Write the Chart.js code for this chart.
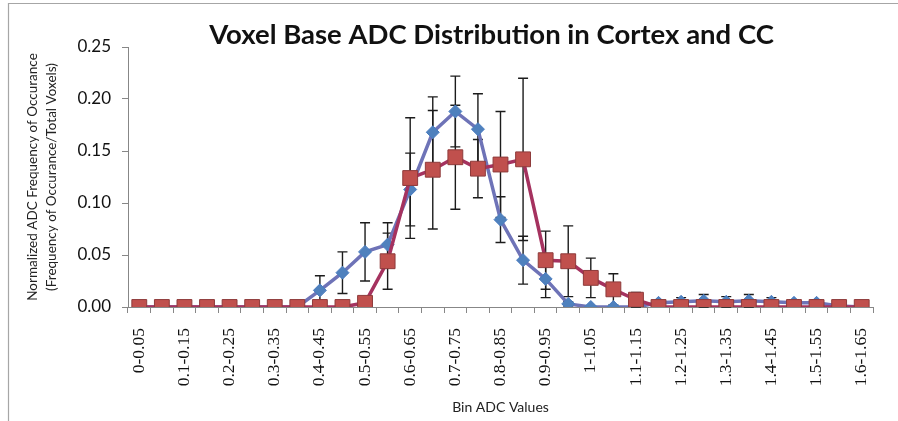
<!DOCTYPE html>
<html>
<head>
<meta charset="utf-8">
<script src="https://cdn.jsdelivr.net/npm/chart.js@4"></script>
<style>
  html, body { margin: 0; padding: 0; background: #fff; }
  #wrap { width: 898px; height: 421px; }
</style>
</head>
<body>
<div id="wrap"><canvas id="c" width="898" height="421"></canvas></div>
<script>
const chartTitle = "Voxel Base ADC Distribution in Cortex and CC";
const xAxisTitle = "Bin ADC Values";
const yAxisTitle = ["Normalized ADC Frequency of Occurance", "(Frequency of Occurance/Total Voxels)"];

const bins = ["0-0.05","0.05-0.1","0.1-0.15","0.15-0.2","0.2-0.25","0.25-0.3","0.3-0.35","0.35-0.4",
  "0.4-0.45","0.45-0.5","0.5-0.55","0.55-0.6","0.6-0.65","0.65-0.7","0.7-0.75","0.75-0.8",
  "0.8-0.85","0.85-0.9","0.9-0.95","0.95-1","1-1.05","1.05-1.1","1.1-1.15","1.15-1.2",
  "1.2-1.25","1.25-1.3","1.3-1.35","1.35-1.4","1.4-1.45","1.45-1.5","1.5-1.55","1.55-1.6","1.6-1.65"];

const cortex = [0,0,0,0,0,0,0,0,
  0.016,0.033,0.053,0.060,0.113,0.168,0.188,0.171,
  0.084,0.045,0.027,0.003,0.000,0.000,0.000,0.004,
  0.005,0.006,0.005,0.006,0.005,0.004,0.004,0.001,0];
const cortexErr = [0,0,0,0,0,0,0,0,
  0.014,0.020,0.028,0.021,0.035,0.034,0.034,0.034,
  0.022,0.023,0.018,0.002,0,0,0,0.002,
  0.004,0.006,0.005,0.006,0.004,0.003,0.003,0,0];

const cc = [0,0,0,0,0,0,0,0,
  0,0,0.004,0.044,0.124,0.132,0.144,0.133,
  0.137,0.142,0.045,0.044,0.028,0.017,0.007,0,
  0,0,0,0,0,0,0,0,0];
const ccErr = [0,0,0,0,0,0,0,0,
  0,0,0.002,0.027,0.058,0.057,0.050,0.028,
  0.051,0.078,0.028,0.034,0.019,0.015,0.007,0,
  0,0,0,0,0,0,0,0,0];

const yTicks = [0, 0.05, 0.10, 0.15, 0.20, 0.25];

const errorBars = {
  id: 'errorBars',
  beforeDatasetsDraw(chart) {
    const ctx = chart.ctx;
    const y = chart.scales.y;
    ctx.save();
    ctx.strokeStyle = '#1c1c1c';
    ctx.lineWidth = 1.4;
    chart.data.datasets.forEach((ds, di) => {
      const errs = ds.errors;
      if (!errs) return;
      const meta = chart.getDatasetMeta(di);
      meta.data.forEach((pt, i) => {
        const e = errs[i];
        if (!e) return;
        const v = ds.data[i];
        const yt = y.getPixelForValue(v + e);
        const yb = y.getPixelForValue(Math.max(v - e, 0));
        const x = pt.x;
        ctx.beginPath();
        ctx.moveTo(x, yt); ctx.lineTo(x, yb);
        ctx.moveTo(x - 5, yt); ctx.lineTo(x + 5, yt);
        if (v - e >= 0) { ctx.moveTo(x - 5, yb); ctx.lineTo(x + 5, yb); }
        ctx.stroke();
      });
    });
    ctx.restore();
  }
};

const frameAndTitle = {
  id: 'frameAndTitle',
  beforeDraw(chart) {
    const ctx = chart.ctx;
    ctx.save();
    ctx.strokeStyle = '#a6a6a6';
    ctx.lineWidth = 1.2;
    ctx.beginPath();
    ctx.moveTo(8.5, 421); ctx.lineTo(8.5, 3.5); ctx.lineTo(898, 3.5);
    ctx.stroke();
    ctx.restore();
  },
  afterDraw(chart) {
    const ctx = chart.ctx;
    const a = chart.chartArea;
    ctx.save();
    ctx.font = "bold 27.5px Lato";
    ctx.fillStyle = '#111';
    ctx.textAlign = 'center';
    ctx.textBaseline = 'middle';
    ctx.fillText(chartTitle, (a.left + a.right) / 2 - 9, 35);
    ctx.restore();
  }
};

new Chart(document.getElementById('c'), {
  type: 'line',
  data: {
    labels: bins,
    datasets: [
      {
        label: 'CC',
        data: cc,
        errors: ccErr,
        order: 0,
        borderColor: '#a5325f',
        borderWidth: 3.5,
        backgroundColor: '#c0504d',
        pointStyle: 'rect',
        pointRadius: 10.5,
        pointBorderColor: '#8e3b3b',
        pointBorderWidth: 1,
        pointBackgroundColor: '#c0504d',
        tension: 0
      },
      {
        label: 'Cortex',
        data: cortex,
        errors: cortexErr,
        order: 1,
        borderColor: '#6e73b7',
        borderWidth: 3.5,
        backgroundColor: '#4f81bd',
        pointStyle: 'rectRot',
        pointRadius: 6.5,
        pointBorderColor: '#4a7cc0',
        pointBorderWidth: 1,
        pointBackgroundColor: '#4f81bd',
        tension: 0
      }
    ]
  },
  options: {
    responsive: false,
    animation: false,
    devicePixelRatio: 1,
    layout: { padding: { left: 10, right: 19, top: 47, bottom: 0 } },
    plugins: {
      legend: { display: false },
      title: { display: false },
      tooltip: { enabled: false }
    },
    scales: {
      x: {
        type: 'category',
        offset: true,
        grid: { offset: true, drawOnChartArea: false, drawTicks: true, tickLength: 6, color: '#878787' },
        border: { color: '#878787', width: 1 },
        ticks: {
          autoSkip: false,
          maxRotation: 90,
          minRotation: 90,
          padding: 15,
          color: '#111',
          font: { family: "'Liberation Serif', 'DejaVu Serif', serif", size: 17.5 },
          callback: function(value, index) { return index % 2 === 0 ? bins[index] : ''; }
        },
        title: {
          display: true,
          text: xAxisTitle,
          color: '#222',
          font: { family: 'Lato', size: 14 },
          padding: { top: 0, bottom: 5 }
        },
        afterFit(scale) { scale.height = 114; }
      },
      y: {
        min: 0,
        max: 0.25,
        grid: { drawOnChartArea: false, drawTicks: true, tickLength: 6, color: '#878787' },
        border: { color: '#878787', width: 1 },
        afterBuildTicks(scale) { scale.ticks = yTicks.map(v => ({ value: v })); },
        ticks: {
          padding: 11,
          color: '#111',
          font: { family: 'Lato', size: 17 },
          callback: v => Number(v).toFixed(2)
        },
        title: {
          display: true,
          text: yAxisTitle,
          color: '#222',
          font: { family: 'Lato', size: 13.5, lineHeight: 1.4 },
          padding: { top: 13, bottom: 0 }
        },
        afterFit(scale) { scale.width = 118; }
      }
    }
  },
  plugins: [errorBars, frameAndTitle]
});
</script>
</body>
</html>
